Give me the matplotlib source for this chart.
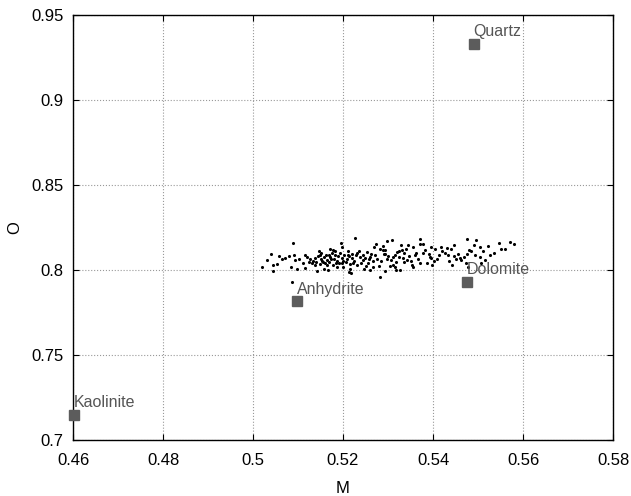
import matplotlib
matplotlib.use('Agg')
import matplotlib.pyplot as plt
from matplotlib.ticker import FuncFormatter

plt.rcParams['font.family'] = ['Liberation Sans', 'DejaVu Sans']

# end-member minerals (M, O)
minerals = ['Quartz', 'Dolomite', 'Anhydrite', 'Kaolinite']
mineral_m = [0.549, 0.5476, 0.5098, 0.4602]
mineral_o = [0.933, 0.793, 0.7815, 0.7148]

# sample cloud (M, O)
sample_m = [
    0.5088, 0.5041, 0.5032, 0.5020, 0.5045, 0.5045, 0.5057, 0.5054, 0.5064, 0.5072,
    0.5081, 0.5085, 0.5094, 0.5098, 0.5087, 0.5115, 0.5116, 0.5124, 0.5130, 0.5137,
    0.5142, 0.5146, 0.5149, 0.5152, 0.5156, 0.5164, 0.5158, 0.5167, 0.5171, 0.5177,
    0.5168, 0.5174, 0.5182, 0.5184, 0.5187, 0.5195, 0.5198, 0.5201, 0.5198, 0.5216,
    0.5213, 0.5218, 0.5227, 0.5210, 0.5214, 0.5220, 0.5232, 0.5223, 0.5238, 0.5245,
    0.5251, 0.5257, 0.5263, 0.5269, 0.5273, 0.5267, 0.5260, 0.5282, 0.5290, 0.5294,
    0.5297, 0.5309, 0.5288, 0.5328, 0.5344, 0.5355, 0.5371, 0.5370, 0.5378, 0.5396,
    0.5405, 0.5418, 0.5430, 0.5441, 0.5447, 0.5476, 0.5496, 0.5504, 0.5481, 0.5546,
    0.5550, 0.5570, 0.5580, 0.5282, 0.5288, 0.5293, 0.5324, 0.5331, 0.5336, 0.5316,
    0.5312, 0.5324, 0.5347, 0.5359, 0.5378, 0.5390, 0.5393, 0.5413, 0.5427, 0.5433,
    0.5447, 0.5460, 0.5476, 0.5484, 0.5494, 0.5504, 0.5527, 0.5298, 0.5306, 0.5318,
    0.5336, 0.5343, 0.5353, 0.5370, 0.5396, 0.5402, 0.5450, 0.5463, 0.5474, 0.5507,
    0.5310, 0.5315, 0.5318, 0.5294,
    0.5121, 0.5127, 0.5133, 0.5138, 0.5141, 0.5144, 0.5148, 0.5151, 0.5153, 0.5157,
    0.5160, 0.5162, 0.5165, 0.5169, 0.5172, 0.5175, 0.5178, 0.5180, 0.5183, 0.5186,
    0.5189, 0.5192, 0.5194, 0.5197, 0.5203, 0.5206, 0.5209, 0.5212, 0.5215, 0.5219,
    0.5224, 0.5228, 0.5231, 0.5235, 0.5241, 0.5244, 0.5248, 0.5253, 0.5256, 0.5261,
    0.5266, 0.5271, 0.5276, 0.5279, 0.5285, 0.5301, 0.5305, 0.5320, 0.5333, 0.5340,
    0.5350, 0.5362, 0.5366, 0.5383, 0.5386, 0.5408, 0.5420, 0.5436, 0.5455, 0.5469,
    0.5490, 0.5510, 0.5522, 0.5535, 0.5560, 0.5515, 0.5478, 0.5443, 0.5397, 0.5356,
    0.5327, 0.5247, 0.5199, 0.5110, 0.5102, 0.5090,
]
sample_o = [
    0.8161, 0.8094, 0.8059, 0.8016, 0.8028, 0.7992, 0.8082, 0.8035, 0.8066, 0.8071,
    0.8082, 0.8019, 0.8059, 0.8008, 0.7929, 0.8086, 0.8012, 0.8047, 0.8039, 0.8031,
    0.7992, 0.8114, 0.8090, 0.8063, 0.8047, 0.8028, 0.8008, 0.8000, 0.8125, 0.8118,
    0.8086, 0.8063, 0.8086, 0.8043, 0.8019, 0.8157, 0.8134, 0.8055, 0.8039, 0.8008,
    0.7988, 0.7984, 0.8188, 0.8090, 0.8082, 0.8094, 0.8098, 0.8039, 0.8078, 0.8059,
    0.8024, 0.8066, 0.8094, 0.8134, 0.8153, 0.8019, 0.8000, 0.7961, 0.8094, 0.8118,
    0.8172, 0.8176, 0.8141, 0.8149, 0.8145, 0.8134, 0.8181, 0.8153, 0.8153, 0.8134,
    0.8125, 0.8137, 0.8129, 0.8125, 0.8149, 0.8181, 0.8176, 0.8134, 0.8118, 0.8161,
    0.8125, 0.8165, 0.8153, 0.8125, 0.8118, 0.8094, 0.8114, 0.8118, 0.8102, 0.8090,
    0.8078, 0.8078, 0.8082, 0.8086, 0.8098, 0.8094, 0.8078, 0.8090, 0.8102, 0.8086,
    0.8082, 0.8071, 0.8094, 0.8110, 0.8090, 0.8078, 0.8086, 0.8063, 0.8059, 0.8047,
    0.8047, 0.8059, 0.8031, 0.8043, 0.8071, 0.8055, 0.8063, 0.8059, 0.8039, 0.8043,
    0.8031, 0.8019, 0.8000, 0.7992,
    0.8078, 0.8063, 0.8051, 0.8071, 0.8047, 0.8082, 0.8035, 0.8098, 0.8055, 0.8075,
    0.8039, 0.8090, 0.8059, 0.8047, 0.8078, 0.8102, 0.8031, 0.8067, 0.8110, 0.8055,
    0.8082, 0.8043, 0.8098, 0.8071, 0.8086, 0.8047, 0.8063, 0.8114, 0.8035, 0.8071,
    0.8055, 0.8086, 0.8031, 0.8110, 0.8043, 0.8090, 0.8071, 0.8106, 0.8039, 0.8078,
    0.8051, 0.8090, 0.8067, 0.8024, 0.8055, 0.8082, 0.8024, 0.8106, 0.8071, 0.8122,
    0.8055, 0.8102, 0.8063, 0.8118, 0.8043, 0.8067, 0.8110, 0.8055, 0.8094, 0.8075,
    0.8145, 0.8110, 0.8141, 0.8098, 0.8122, 0.8059, 0.8020, 0.8031, 0.8027, 0.8016,
    0.8000, 0.8004, 0.8016, 0.8039, 0.8067, 0.8090,
]

x_ticks = [0.46, 0.48, 0.5, 0.52, 0.54, 0.56, 0.58]
y_ticks = [0.7, 0.75, 0.8, 0.85, 0.9, 0.95]

fig = plt.figure(figsize=(6.31, 4.96), dpi=100)
ax = fig.add_axes([0.1157, 0.1129, 0.8558, 0.8569])

ax.scatter(sample_m, sample_o, s=5, color='black', linewidths=0, zorder=3)
ax.plot(mineral_m, mineral_o, 's', color='#5c5c5c', markersize=7.2, zorder=4,
        clip_on=False)
for name, m, o in zip(minerals, mineral_m, mineral_o):
    ax.annotate(name, (m, o), xytext=(0, 5.5), textcoords='offset points',
                ha='left', va='baseline', fontsize=11.5, color='#555555')

ax.set_xlim(0.46, 0.58)
ax.set_ylim(0.7, 0.95)
ax.set_xticks(x_ticks)
ax.set_yticks(y_ticks)
fmt = FuncFormatter(lambda v, p: '%g' % round(v, 3))
ax.xaxis.set_major_formatter(fmt)
ax.yaxis.set_major_formatter(fmt)
ax.tick_params(direction='in', top=True, right=True, length=4, width=0.8,
               labelsize=12, colors='black')
ax.tick_params(axis='x', pad=9)
ax.tick_params(axis='y', pad=7)
ax.grid(True, linestyle=':', color='0.6', linewidth=0.8)
for sp in ax.spines.values():
    sp.set_linewidth(1.0)

ax.set_xlabel('M', fontsize=12, labelpad=10)
ax.set_ylabel('O', fontsize=12, labelpad=6)

fig.savefig('out.png', dpi=100)
